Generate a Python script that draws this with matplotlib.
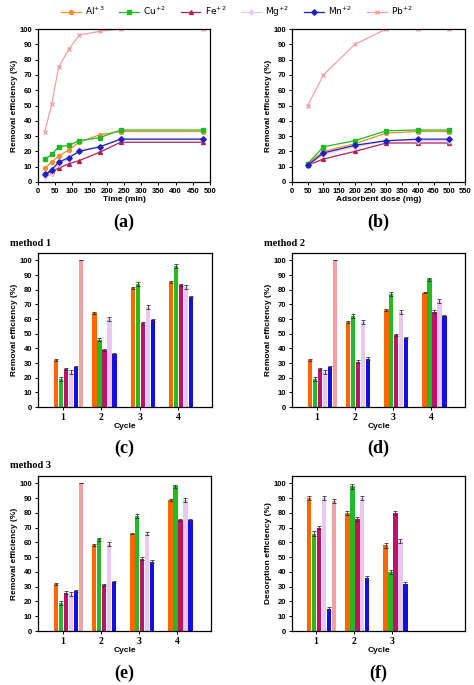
import matplotlib
matplotlib.use("Agg")
import matplotlib.pyplot as plt
import numpy as np

ions = ["Al$^{+3}$", "Cu$^{+2}$", "Fe$^{+2}$", "Mg$^{+2}$", "Mn$^{+2}$", "Pb$^{+2}$"]
line_colors = ["#F0902A", "#22B822", "#B0205A", "#E8C8E8", "#2020C0", "#F0A0A8"]
bar_colors = ["#FF6600", "#22BB22", "#C0106A", "#E8C8F0", "#1010E0", "#F4A0A0"]
markers = ["o", "s", "^", "d", "D", "x"]

time = [20, 40, 60, 90, 120, 180, 240, 480]
time_vals = [
    [9, 13, 17, 21, 26, 31, 33, 33],
    [15, 18, 23, 24, 27, 29, 34, 34],
    [5, 7, 9, 12, 14, 19.5, 26, 26],
    [3, 5, 12, 15, 21, 23, 28, 28],
    [5, 8, 13, 16, 20, 23, 28, 28],
    [33, 51, 75, 87, 96, 98.5, 100, 100],
]
dose = [50, 100, 200, 300, 400, 500]
dose_vals = [
    [12, 20, 25, 32, 33, 33],
    [12, 23, 27, 33.5, 34, 34],
    [11, 15, 20, 25.5, 25.5, 25.5],
    [11, 18, 23, 27, 27, 27],
    [11, 19, 24, 27, 28, 28],
    [50, 70, 90, 100, 100, 100],
]
nan = np.nan
m1 = [[32, 64, 81, 85], [19, 46, 84, 96], [26, 39, 57, 83], [24, 60, 68, 82], [27, 36, 59, 75], [100, nan, nan, nan]]
m2 = [[32, 58, 66, 78], [19, 62, 77, 87], [26, 31, 49, 65], [24, 58, 65, 72], [27, 33, 47, 62], [100, nan, nan, nan]]
m3 = [[32, 58, 66, 89], [19, 62, 78, 98], [26, 31, 49, 75], [25, 59, 66, 89], [27, 33, 47, 75], [100, nan, nan, nan]]
des = [[90, 80, 58], [66, 98, 40], [70, 76, 80], [90, 90, 61], [15, 36, 32], [88, nan, nan]]
err_m = [0.6, 1.2, 0.8, 1.3, 0.8, 0]
err_f = [1.5, 1.5, 1.2, 1.5, 1.5, 1.5]

fig = plt.figure(figsize=(4.74, 6.85), dpi=100)
W, H = 474, 685
def ax_at(x0, y0, x1, y1):
    return fig.add_axes([x0 / W, 1 - y1 / H, (x1 - x0) / W, (y1 - y0) / H])

tfont = dict(fontsize=6, fontweight="bold", family="Liberation Sans")

def style(ax):
    for s in ax.spines.values():
        s.set_linewidth(0.9)
    ax.tick_params(labelsize=5.5, width=0.7, length=2.5, pad=1.5)
    for t in ax.get_xticklabels() + ax.get_yticklabels():
        t.set_fontweight("bold"); t.set_family("Liberation Sans")

# (a)
axa = ax_at(38, 29, 210, 182)
for i in range(6):
    axa.plot(time, time_vals[i], color=line_colors[i], marker=markers[i], ms=2.8, lw=0.9, label=ions[i])
axa.set_xlim(0, 500); axa.set_ylim(0, 100)
axa.set_xticks(range(0, 501, 50)); axa.set_yticks(range(0, 101, 10))
axa.set_xlabel("Time (min)", labelpad=1, **tfont)
axa.set_ylabel("Removal efficiency (%)", labelpad=1, **tfont)
style(axa)

axb = ax_at(292, 29, 465, 182)
for i in range(6):
    axb.plot(dose, dose_vals[i], color=line_colors[i], marker=markers[i], ms=2.8, lw=0.9)
axb.set_xlim(0, 550); axb.set_ylim(0, 100)
axb.set_xticks(range(0, 551, 50)); axb.set_yticks(range(0, 101, 10))
axb.set_xlabel("Adsorbent dose (mg)", labelpad=1, **tfont)
axb.set_ylabel("Removal efficiency (%)", labelpad=1, **tfont)
style(axb)

h, l = axa.get_legend_handles_labels()
fig.legend(h, l, loc="upper center", bbox_to_anchor=(0.5, 1.005), ncol=6, frameon=False,
           fontsize=6.5, handlelength=2.2, columnspacing=1.6, handletextpad=0.5)

def bars(ax, data, errs, ncyc, ylabel, xlim):
    x = np.arange(1, ncyc + 1)
    bw = 0.115
    for i in range(6):
        vals = np.array(data[i], dtype=float)
        ax.bar(x - 0.18 + i * 0.13, vals, bw, color=bar_colors[i],
               yerr=np.where(np.isnan(vals), 0, errs[i]), error_kw=dict(lw=0.6, capsize=1.5, capthick=0.6, ecolor="#333333"))
    ax.set_xlim(*xlim); ax.set_ylim(0, 105)
    ax.set_xticks(x)
    ax.set_xticklabels([str(v) for v in x], family="Liberation Serif", fontweight="bold", fontsize=7)
    ax.set_yticks(range(0, 101, 10))
    ax.tick_params(labelsize=5.5, width=0.7, length=2.5, pad=1.5)
    for t in ax.get_yticklabels():
        t.set_fontweight("bold"); t.set_family("Liberation Sans")
    for t in ax.get_xticklabels():
        t.set_fontsize(7)
    for s in ax.spines.values():
        s.set_linewidth(0.9)
    ax.set_xlabel("Cycle", labelpad=1, **tfont)
    ax.set_ylabel(ylabel, labelpad=1, **tfont)

axc = ax_at(38, 253, 212, 407); bars(axc, m1, err_m, 4, "Removal efficiency (%)", (0.35, 4.88))
axd = ax_at(292, 253, 465, 407); bars(axd, m2, err_m, 4, "Removal efficiency (%)", (0.35, 4.88))
axe = ax_at(38, 476, 211, 631); bars(axe, m3, err_m, 4, "Removal efficiency (%)", (0.35, 4.88))
axf = ax_at(292, 476, 465, 631); bars(axf, des, err_f, 3, "Desorption efficiency (%)", (0.37, 4.9))

pfont = dict(fontsize=13, fontweight="bold", family="Liberation Serif", ha="center", va="center")
for lab, x, y in [("(a)", 124, 222), ("(b)", 378, 222), ("(c)", 124, 448), ("(d)", 378, 448),
                  ("(e)", 124, 673), ("(f)", 378, 673)]:
    fig.text(x / W, 1 - y / H, lab, **pfont)
mfont = dict(fontsize=7.5, fontweight="bold", family="Liberation Serif", va="center")
fig.text(10 / W, 1 - 243 / H, "method 1", **mfont)
fig.text(264 / W, 1 - 243 / H, "method 2", **mfont)
fig.text(10 / W, 1 - 466 / H, "method 3", **mfont)

fig.savefig("out.png", dpi=100)
